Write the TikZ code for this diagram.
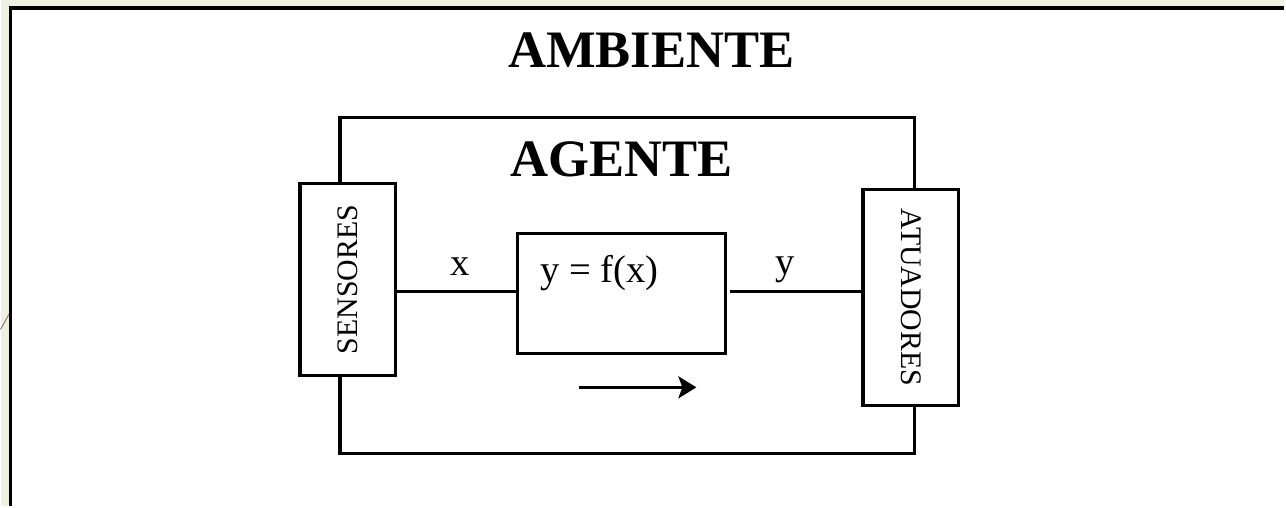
\documentclass[tikz,border=0pt]{standalone}
\usepackage{fontspec}
\setmainfont{Liberation Serif}
\usetikzlibrary{arrows.meta,positioning}
\definecolor{SlideBeige}{RGB}{238,241,226}
\definecolor{SlideLine}{RGB}{140,130,110}
\tikzset{
  blockbox/.style={draw=black, line width=1.8pt, fill=white, inner sep=0pt},
  sidebox/.style={blockbox, minimum width=1.92cm, font=\fontsize{17}{20}\selectfont},
  titletext/.style={font=\fontsize{30}{36}\selectfont\bfseries},
  signal/.style={font=\fontsize{22}{26}\selectfont, inner sep=0pt, anchor=base},
  wire/.style={line width=1.8pt}
}

\begin{document}
\begin{tikzpicture}[x=0.02cm, y=-0.02cm]
  % slide background and frame
  \fill[SlideBeige] (0,0) rectangle (1286,507);
  \fill[white] (10,8) rectangle (1286,507);
  \draw[SlideLine, line width=0.6pt] (0,330) -- (10,312);
  \draw[line width=1.9pt] (10,507) -- (10,8) -- (1286,8);
  \useasboundingbox (0,0) rectangle (1286,507);

  \node[titletext] (ambiente) at (652,50) {AMBIENTE};
  \node[blockbox, minimum width=11.52cm, minimum height=6.72cm] (agente) at (628,286) {};
  \node[titletext] (agentetitle) at (622,160) {AGENTE};

  \node[sidebox, minimum height=3.84cm] (sensores) at (348,280) {\rotatebox{90}{SENSORES}};
  \node[sidebox, minimum height=4.34cm] (atuadores) at (912,298) {\rotatebox{-90}{ATUADORES}};

  \node[blockbox, minimum width=4.16cm, minimum height=2.4cm] (func) at (622,294) {};
  \node[signal] (funclabel) at (600,283) {y = f(x)};
  \node[signal] (xlabel) at (460,276) {x};
  \node[signal] (ylabel) at (786,275) {y};

  % signal wires
  \draw[wire] ([yshift=0.04cm]func.west) -- ([yshift=0.04cm]func.west -| sensores.east);
  \draw[wire] ([xshift=0.06cm, yshift=0.04cm]func.east) -- ([xshift=0.08cm, yshift=0.04cm]func.east -| atuadores.west);

  \coordinate (flowstart) at (579,388);
  \coordinate (flowend) at (697,388);
  \draw[wire, -{Stealth[length=0.36cm, width=0.44cm, inset=0.08cm]}] (flowstart) -- (flowend);
\end{tikzpicture}
\end{document}
